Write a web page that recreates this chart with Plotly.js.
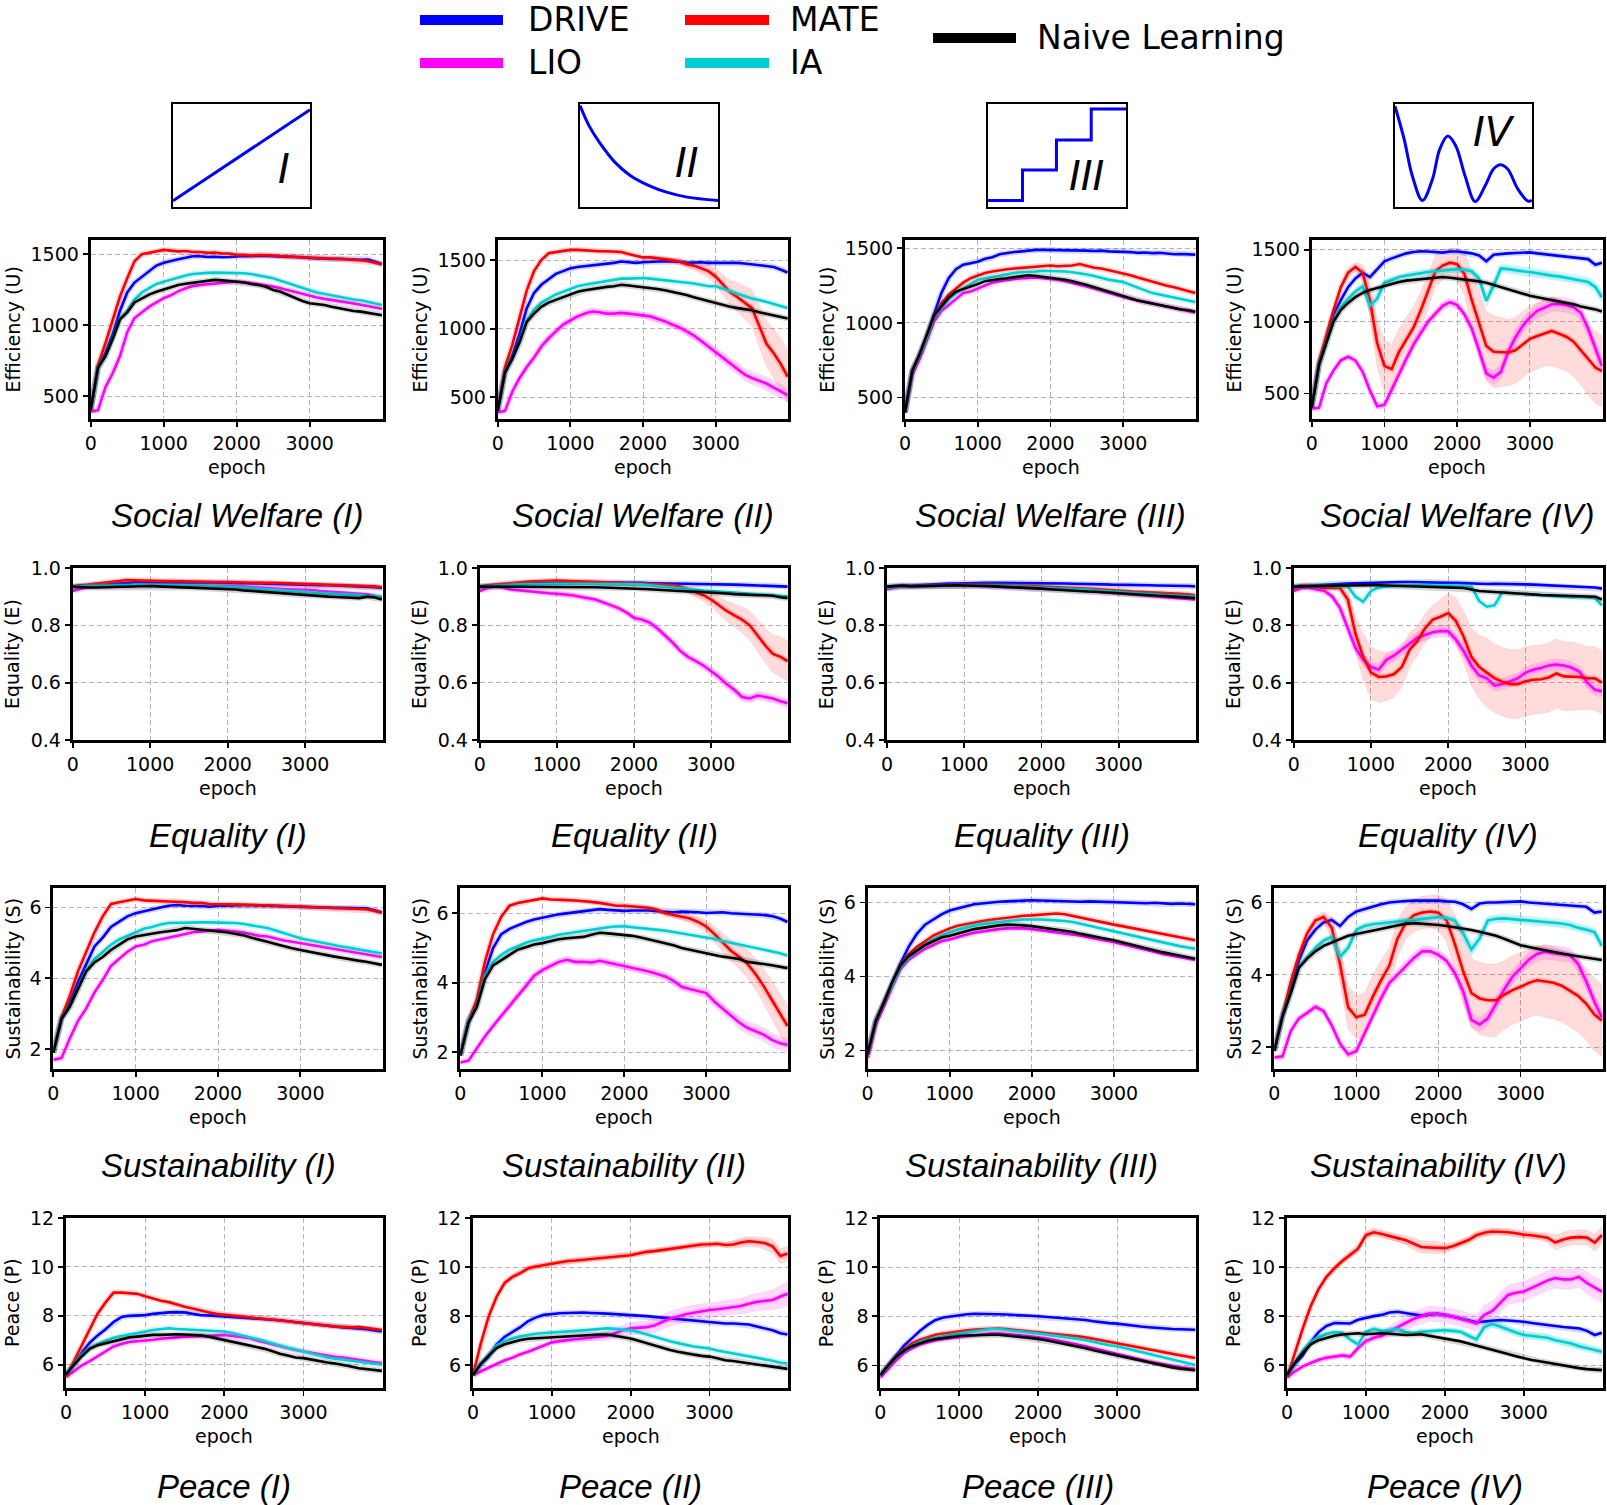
<!DOCTYPE html>
<html><head><meta charset="utf-8">
<script src="https://cdn.plot.ly/plotly-3.0.1.min.js"></script>
<style>html,body{margin:0;padding:0;background:#fff;}#chart{width:1607px;height:1505px;}</style>
</head><body><div id="chart"></div>
<script>
// ---------------- DATA ----------------
const EPOCH = [0,100,200,300,400,500,600,700,800,900,1000,1100,1200,1300,1400,1500,1600,1700,1800,1900,2000,2100,2200,2300,2400,2500,2600,2700,2800,2900,3000,3100,3200,3300,3400,3500,3600,3700,3800,3900,3990];
const METHODS = ['DRIVE','LIO','MATE','IA','Naive Learning'];
const ROMAN = ['I','II','III','IV'];
const X_TICKS = [0,1000,2000,3000];

// Social Welfare
const SW_I_DRIVE = [400,700,800,930,1100,1230,1300,1340,1380,1420,1440,1455,1465,1475,1485,1485,1480,1482,1478,1480,1485,1487,1486,1490,1490,1486,1482,1480,1480,1476,1472,1470,1470,1466,1468,1464,1465,1460,1462,1445,1430];
const SW_I_MATE = [400,720,870,1040,1200,1330,1450,1500,1510,1520,1530,1525,1520,1522,1515,1515,1510,1512,1505,1505,1495,1495,1490,1494,1494,1490,1486,1484,1480,1480,1476,1474,1470,1470,1466,1464,1460,1458,1450,1440,1428];
const SW_I_LIO = [390,400,560,660,780,950,1050,1090,1130,1160,1190,1210,1240,1260,1275,1283,1288,1295,1300,1305,1307,1303,1296,1288,1280,1272,1260,1247,1233,1220,1205,1195,1185,1178,1170,1160,1153,1143,1132,1122,1115];
const SW_I_IA = [400,700,780,900,1040,1100,1180,1230,1260,1290,1305,1320,1340,1350,1360,1366,1368,1370,1370,1370,1368,1366,1360,1350,1342,1330,1312,1295,1275,1260,1245,1230,1220,1205,1196,1188,1180,1175,1165,1155,1142];
const SW_I_NAIVE = [400,700,780,900,1040,1090,1160,1190,1215,1235,1250,1270,1283,1292,1300,1307,1312,1319,1315,1310,1307,1300,1290,1283,1270,1248,1235,1213,1195,1170,1154,1150,1142,1130,1119,1110,1100,1095,1088,1080,1070];

const SW_II_DRIVE = [400,680,800,960,1150,1260,1320,1360,1400,1420,1440,1450,1455,1465,1470,1475,1480,1490,1485,1480,1485,1488,1490,1492,1490,1488,1480,1482,1485,1480,1480,1478,1482,1480,1476,1470,1462,1455,1450,1430,1410];
const SW_II_MATE = [400,720,880,1080,1280,1420,1500,1550,1560,1570,1575,1575,1570,1568,1565,1565,1560,1560,1545,1530,1520,1520,1515,1510,1500,1490,1470,1460,1440,1420,1380,1320,1265,1230,1190,1150,1020,890,820,740,650];
const SW_II_MATE_STD = [8,8,8,8,8,8,8,8,8,8,8,8,8,8,8,8,8,8,8,8,10,12,14,16,18,20,25,30,40,50,60,75,90,105,120,135,150,165,180,190,190];
const SW_II_LIO = [390,400,540,640,720,790,870,930,980,1030,1060,1090,1110,1125,1120,1110,1110,1115,1110,1105,1100,1090,1070,1055,1030,1010,980,950,910,870,830,790,745,710,665,640,620,600,570,540,515];
const SW_II_LIO_STD = [10,10,15,20,20,20,25,25,25,25,25,25,25,25,25,25,25,25,25,25,25,25,25,25,25,30,30,30,35,35,35,40,40,45,45,45,45,50,50,50,50];
const SW_II_IA = [400,680,780,900,1060,1140,1190,1220,1250,1270,1290,1310,1320,1330,1340,1350,1360,1365,1365,1370,1370,1365,1360,1355,1350,1345,1340,1330,1320,1310,1310,1295,1275,1255,1235,1220,1210,1195,1180,1165,1150];
const SW_II_NAIVE = [400,680,780,900,1050,1110,1160,1190,1210,1230,1250,1270,1280,1290,1300,1305,1310,1320,1315,1310,1305,1300,1290,1280,1270,1255,1245,1230,1215,1200,1185,1170,1160,1150,1145,1135,1120,1110,1100,1085,1075];

const SW_III_DRIVE = [400,680,780,900,1060,1200,1300,1360,1390,1400,1410,1430,1440,1460,1470,1475,1480,1485,1490,1490,1490,1485,1485,1488,1485,1485,1482,1485,1480,1478,1480,1475,1470,1472,1468,1470,1465,1460,1462,1460,1458];
const SW_III_MATE = [400,680,780,900,1040,1130,1190,1230,1270,1300,1320,1335,1345,1355,1360,1365,1370,1375,1380,1385,1385,1380,1380,1385,1395,1380,1370,1365,1355,1345,1335,1320,1305,1290,1280,1265,1250,1240,1225,1215,1200];
const SW_III_LIO = [400,650,760,880,1010,1080,1120,1160,1200,1210,1230,1250,1270,1280,1290,1295,1300,1305,1305,1300,1295,1290,1280,1270,1260,1245,1230,1215,1200,1185,1170,1160,1150,1140,1130,1120,1110,1100,1090,1080,1070];
const SW_III_IA = [400,680,780,900,1040,1100,1160,1200,1230,1260,1290,1300,1310,1320,1330,1335,1340,1345,1345,1350,1350,1345,1345,1340,1335,1325,1315,1300,1290,1282,1275,1255,1235,1215,1200,1190,1180,1170,1160,1150,1140];
const SW_III_NAIVE = [400,680,790,920,1050,1110,1170,1210,1225,1240,1260,1280,1290,1295,1300,1305,1310,1320,1315,1310,1305,1300,1290,1280,1270,1255,1240,1225,1210,1190,1175,1165,1150,1140,1130,1120,1110,1100,1090,1085,1075];

const SW_IV_DRIVE = [400,700,880,1050,1150,1240,1300,1340,1310,1365,1420,1440,1460,1475,1485,1490,1488,1482,1480,1488,1488,1482,1475,1460,1420,1465,1472,1475,1478,1480,1482,1475,1470,1465,1460,1455,1450,1440,1435,1395,1410];
const SW_IV_MATE = [400,720,900,1080,1240,1340,1380,1340,1150,850,690,670,790,880,960,1080,1210,1350,1390,1410,1400,1330,1150,990,830,790,790,785,800,840,880,900,920,935,915,895,860,800,740,680,655];
const SW_IV_MATE_STD = [10,15,20,20,25,30,30,60,120,170,180,170,160,150,140,130,120,110,100,100,110,150,200,230,240,250,240,230,230,230,230,230,230,240,240,240,240,240,250,250,250];
const SW_IV_LIO = [395,400,570,660,730,755,730,650,520,410,420,530,640,740,840,925,1000,1055,1110,1135,1115,1050,950,800,640,610,650,790,890,970,1030,1075,1100,1120,1122,1115,1100,1060,950,820,690];
const SW_IV_LIO_STD = [10,10,15,15,15,15,15,20,20,20,20,25,25,30,30,30,30,30,30,30,30,30,35,40,45,50,50,50,50,50,50,50,50,50,50,50,50,50,50,50,50];
const SW_IV_IA = [400,700,850,1000,1100,1160,1210,1245,1110,1160,1270,1290,1310,1320,1330,1340,1345,1350,1355,1360,1365,1360,1350,1300,1145,1250,1370,1365,1355,1350,1345,1335,1330,1320,1315,1305,1300,1290,1275,1240,1170];
const SW_IV_IA_STD = [10,10,15,15,15,20,20,25,40,40,25,20,20,20,20,20,20,20,20,20,20,20,25,30,40,40,30,30,30,30,30,30,30,30,30,30,30,30,35,35,35];
const SW_IV_NAIVE = [400,700,850,1000,1080,1130,1170,1200,1220,1235,1250,1265,1275,1285,1290,1295,1300,1310,1310,1305,1300,1295,1290,1280,1270,1255,1240,1225,1205,1190,1180,1170,1160,1150,1145,1135,1120,1105,1095,1085,1070];

// Equality
const EQ_I_DRIVE = [0.935,0.938,0.94,0.94,0.942,0.945,0.947,0.948,0.95,0.95,0.95,0.95,0.95,0.951,0.95,0.95,0.95,0.949,0.949,0.948,0.948,0.948,0.947,0.946,0.946,0.945,0.944,0.944,0.943,0.943,0.942,0.941,0.94,0.94,0.939,0.938,0.937,0.936,0.935,0.933,0.93];
const EQ_I_MATE = [0.935,0.94,0.942,0.945,0.948,0.952,0.955,0.958,0.957,0.956,0.957,0.956,0.955,0.954,0.954,0.953,0.953,0.952,0.952,0.951,0.951,0.95,0.95,0.949,0.949,0.948,0.948,0.947,0.947,0.946,0.946,0.945,0.944,0.943,0.942,0.941,0.94,0.939,0.938,0.936,0.933];
const EQ_I_LIO = [0.92,0.928,0.933,0.935,0.936,0.937,0.938,0.939,0.94,0.94,0.94,0.94,0.94,0.94,0.94,0.94,0.939,0.938,0.938,0.937,0.937,0.936,0.935,0.933,0.931,0.93,0.928,0.927,0.926,0.925,0.925,0.923,0.92,0.918,0.916,0.914,0.912,0.91,0.908,0.903,0.895];
const EQ_I_IA = [0.935,0.937,0.938,0.938,0.938,0.94,0.94,0.94,0.941,0.941,0.942,0.942,0.942,0.941,0.94,0.94,0.939,0.938,0.937,0.936,0.935,0.933,0.931,0.929,0.927,0.925,0.923,0.921,0.919,0.917,0.915,0.913,0.911,0.91,0.909,0.908,0.906,0.905,0.903,0.901,0.9];
const EQ_I_NAIVE = [0.935,0.933,0.932,0.932,0.933,0.933,0.934,0.935,0.936,0.936,0.937,0.936,0.935,0.934,0.933,0.932,0.931,0.93,0.928,0.927,0.927,0.925,0.922,0.92,0.918,0.915,0.912,0.91,0.908,0.906,0.905,0.904,0.902,0.9,0.899,0.897,0.895,0.895,0.9,0.897,0.89];

const EQ_II_DRIVE = [0.935,0.938,0.94,0.942,0.944,0.946,0.947,0.948,0.949,0.95,0.95,0.95,0.95,0.95,0.95,0.95,0.95,0.949,0.949,0.948,0.948,0.948,0.947,0.947,0.946,0.946,0.945,0.945,0.944,0.944,0.943,0.943,0.942,0.942,0.941,0.94,0.94,0.939,0.938,0.937,0.935];
const EQ_II_MATE = [0.935,0.94,0.942,0.945,0.948,0.95,0.952,0.954,0.955,0.955,0.956,0.955,0.954,0.953,0.952,0.951,0.95,0.95,0.949,0.948,0.948,0.946,0.945,0.943,0.941,0.94,0.935,0.925,0.915,0.905,0.89,0.87,0.85,0.835,0.82,0.8,0.765,0.73,0.7,0.69,0.675];
const EQ_II_MATE_STD = [0.003,0.003,0.003,0.003,0.003,0.003,0.003,0.003,0.003,0.003,0.003,0.003,0.003,0.003,0.003,0.003,0.003,0.003,0.003,0.003,0.003,0.003,0.003,0.003,0.003,0.003,0.008,0.012,0.016,0.02,0.025,0.03,0.035,0.04,0.045,0.05,0.055,0.06,0.065,0.07,0.07];
const EQ_II_LIO = [0.92,0.93,0.935,0.932,0.925,0.922,0.92,0.918,0.915,0.912,0.91,0.908,0.905,0.9,0.895,0.89,0.88,0.87,0.86,0.845,0.826,0.82,0.81,0.79,0.765,0.74,0.71,0.69,0.675,0.66,0.64,0.62,0.595,0.575,0.55,0.545,0.555,0.55,0.545,0.535,0.528];
const EQ_II_LIO_STD = [0.005,0.005,0.005,0.005,0.005,0.005,0.005,0.005,0.005,0.005,0.008,0.008,0.008,0.008,0.008,0.008,0.008,0.008,0.008,0.008,0.012,0.012,0.012,0.012,0.012,0.012,0.012,0.012,0.012,0.012,0.015,0.015,0.015,0.015,0.015,0.015,0.015,0.015,0.015,0.015,0.015];
const EQ_II_IA = [0.935,0.937,0.939,0.94,0.941,0.942,0.943,0.944,0.945,0.945,0.945,0.945,0.945,0.945,0.945,0.945,0.945,0.945,0.945,0.945,0.944,0.943,0.94,0.937,0.934,0.931,0.928,0.925,0.923,0.921,0.92,0.918,0.916,0.914,0.912,0.91,0.908,0.906,0.904,0.902,0.9];
const EQ_II_NAIVE = [0.935,0.935,0.935,0.935,0.935,0.935,0.935,0.935,0.935,0.935,0.935,0.935,0.935,0.934,0.933,0.933,0.932,0.931,0.931,0.93,0.93,0.928,0.926,0.924,0.922,0.92,0.919,0.918,0.917,0.916,0.915,0.913,0.911,0.909,0.907,0.905,0.905,0.905,0.903,0.898,0.895];

const EQ_III_DRIVE = [0.935,0.938,0.94,0.938,0.94,0.942,0.944,0.945,0.946,0.946,0.947,0.947,0.948,0.948,0.948,0.948,0.948,0.948,0.948,0.947,0.947,0.947,0.946,0.946,0.945,0.945,0.944,0.944,0.943,0.942,0.942,0.941,0.941,0.94,0.94,0.939,0.939,0.938,0.938,0.937,0.936];
const EQ_III_MATE = [0.93,0.935,0.937,0.936,0.937,0.938,0.939,0.94,0.94,0.941,0.941,0.941,0.941,0.941,0.94,0.94,0.94,0.939,0.938,0.937,0.936,0.935,0.934,0.933,0.932,0.93,0.929,0.927,0.925,0.924,0.922,0.92,0.918,0.917,0.915,0.914,0.912,0.911,0.91,0.908,0.905];
const EQ_III_LIO = [0.925,0.933,0.936,0.935,0.936,0.937,0.938,0.938,0.939,0.939,0.939,0.938,0.937,0.936,0.935,0.934,0.933,0.932,0.931,0.93,0.93,0.929,0.928,0.926,0.924,0.922,0.92,0.918,0.916,0.914,0.912,0.91,0.908,0.906,0.904,0.902,0.9,0.898,0.896,0.893,0.89];
const EQ_III_IA = [0.93,0.935,0.936,0.935,0.936,0.937,0.938,0.939,0.94,0.94,0.94,0.94,0.94,0.94,0.939,0.938,0.937,0.936,0.935,0.934,0.933,0.932,0.931,0.93,0.928,0.926,0.924,0.922,0.92,0.918,0.916,0.914,0.912,0.91,0.908,0.906,0.905,0.904,0.903,0.902,0.9];
const EQ_III_NAIVE = [0.935,0.937,0.938,0.936,0.937,0.938,0.939,0.94,0.94,0.94,0.939,0.939,0.938,0.937,0.936,0.935,0.934,0.933,0.932,0.93,0.928,0.926,0.924,0.922,0.92,0.919,0.918,0.917,0.915,0.913,0.911,0.909,0.907,0.906,0.905,0.903,0.902,0.9,0.899,0.897,0.895];

const EQ_IV_DRIVE = [0.935,0.938,0.94,0.94,0.942,0.944,0.945,0.946,0.947,0.948,0.948,0.949,0.95,0.95,0.951,0.951,0.95,0.95,0.949,0.949,0.948,0.948,0.947,0.945,0.943,0.944,0.945,0.945,0.944,0.944,0.943,0.942,0.941,0.94,0.939,0.938,0.937,0.936,0.935,0.932,0.928];
const EQ_IV_MATE = [0.93,0.94,0.94,0.935,0.93,0.93,0.93,0.89,0.77,0.69,0.635,0.62,0.622,0.63,0.655,0.715,0.745,0.79,0.82,0.83,0.843,0.815,0.76,0.69,0.655,0.635,0.616,0.603,0.595,0.595,0.605,0.61,0.612,0.618,0.632,0.622,0.622,0.62,0.616,0.615,0.6];
const EQ_IV_MATE_STD = [0.003,0.003,0.003,0.005,0.005,0.008,0.01,0.03,0.06,0.08,0.09,0.09,0.085,0.08,0.07,0.06,0.05,0.05,0.05,0.06,0.07,0.08,0.09,0.1,0.11,0.12,0.12,0.12,0.12,0.12,0.12,0.12,0.12,0.12,0.12,0.12,0.12,0.115,0.11,0.11,0.11];
const EQ_IV_LIO = [0.92,0.93,0.93,0.925,0.92,0.9,0.86,0.79,0.72,0.68,0.655,0.645,0.68,0.695,0.715,0.735,0.757,0.766,0.776,0.78,0.779,0.75,0.71,0.66,0.625,0.615,0.59,0.595,0.605,0.615,0.635,0.645,0.651,0.66,0.663,0.66,0.652,0.638,0.6,0.575,0.57];
const EQ_IV_LIO_STD = [0.005,0.005,0.005,0.008,0.01,0.012,0.015,0.02,0.02,0.02,0.02,0.02,0.02,0.02,0.02,0.02,0.02,0.02,0.02,0.02,0.02,0.02,0.02,0.02,0.02,0.02,0.02,0.02,0.02,0.02,0.02,0.02,0.02,0.02,0.02,0.02,0.02,0.02,0.02,0.02,0.02];
const EQ_IV_IA = [0.935,0.937,0.938,0.938,0.938,0.938,0.937,0.936,0.9,0.882,0.92,0.932,0.936,0.938,0.94,0.94,0.94,0.94,0.94,0.94,0.939,0.938,0.936,0.935,0.885,0.865,0.87,0.915,0.913,0.911,0.91,0.908,0.906,0.904,0.902,0.9,0.898,0.9,0.898,0.895,0.87];
const EQ_IV_NAIVE = [0.935,0.936,0.937,0.937,0.938,0.938,0.939,0.939,0.94,0.94,0.94,0.94,0.939,0.938,0.937,0.936,0.935,0.934,0.933,0.932,0.931,0.93,0.93,0.925,0.92,0.918,0.916,0.914,0.912,0.91,0.91,0.908,0.906,0.905,0.904,0.903,0.902,0.9,0.9,0.9,0.89];

// Sustainability
const SU_I_DRIVE = [1.9,2.9,3.3,3.9,4.4,4.9,5.15,5.45,5.6,5.75,5.84,5.9,5.95,6.0,6.05,6.07,6.05,6.05,6.04,6.02,6.05,6.05,6.06,6.07,6.07,6.06,6.05,6.05,6.04,6.03,6.02,6.0,6.0,6.0,5.99,5.99,5.98,5.97,5.98,5.92,5.86];
const SU_I_MATE = [1.9,2.9,3.5,4.2,4.75,5.3,5.75,6.1,6.15,6.2,6.24,6.2,6.2,6.18,6.17,6.17,6.15,6.13,6.13,6.1,6.1,6.08,6.08,6.08,6.07,6.07,6.05,6.05,6.04,6.03,6.02,6.02,6.0,6.0,5.98,5.98,5.97,5.96,5.95,5.9,5.85];
const SU_I_LIO = [1.7,1.75,2.3,2.8,3.15,3.6,3.95,4.35,4.55,4.75,4.9,4.95,5.05,5.1,5.13,5.2,5.25,5.3,5.32,5.35,5.37,5.35,5.33,5.3,5.25,5.2,5.18,5.12,5.07,5.03,4.99,4.95,4.9,4.87,4.84,4.8,4.75,4.7,4.66,4.62,4.6];
const SU_I_IA = [1.9,2.85,3.2,3.7,4.2,4.55,4.75,4.95,5.1,5.2,5.32,5.4,5.45,5.52,5.56,5.57,5.58,5.58,5.58,5.58,5.58,5.57,5.56,5.54,5.5,5.46,5.42,5.35,5.27,5.2,5.13,5.08,5.03,4.98,4.95,4.9,4.86,4.82,4.79,4.75,4.7];
const SU_I_NAIVE = [1.9,2.85,3.2,3.7,4.2,4.45,4.6,4.8,4.95,5.1,5.18,5.22,5.28,5.3,5.33,5.36,5.42,5.4,5.37,5.34,5.32,5.3,5.26,5.22,5.15,5.08,5.03,4.97,4.9,4.85,4.8,4.75,4.7,4.65,4.62,4.58,4.53,4.5,4.47,4.42,4.38];

const SU_II_DRIVE = [1.9,2.9,3.4,4.3,5.0,5.4,5.55,5.65,5.75,5.82,5.86,5.92,5.97,6.0,6.03,6.07,6.08,6.12,6.1,6.08,6.07,6.08,6.09,6.08,6.06,6.04,6.03,6.05,6.05,6.03,6.01,6.02,6.03,6.0,5.99,5.98,5.95,5.95,5.92,5.85,5.75];
const SU_II_MATE = [1.9,2.9,3.5,4.6,5.4,5.9,6.22,6.3,6.34,6.38,6.43,6.4,6.4,6.38,6.37,6.36,6.33,6.3,6.25,6.22,6.22,6.2,6.18,6.16,6.1,6.0,5.95,5.9,5.85,5.75,5.62,5.4,5.15,4.92,4.75,4.55,4.25,3.9,3.5,3.1,2.75];
const SU_II_MATE_STD = [0.03,0.03,0.03,0.03,0.03,0.03,0.03,0.03,0.03,0.03,0.03,0.03,0.03,0.03,0.03,0.03,0.03,0.03,0.03,0.03,0.03,0.03,0.04,0.05,0.06,0.07,0.08,0.1,0.12,0.15,0.18,0.22,0.26,0.3,0.35,0.4,0.45,0.5,0.55,0.6,0.6];
const SU_II_LIO = [1.7,1.75,2.1,2.45,2.75,3.05,3.35,3.62,3.9,4.2,4.36,4.48,4.6,4.66,4.6,4.6,4.58,4.63,4.58,4.52,4.48,4.43,4.38,4.32,4.25,4.18,4.05,3.88,3.82,3.75,3.7,3.45,3.25,3.05,2.85,2.7,2.6,2.5,2.35,2.25,2.2];
const SU_II_LIO_STD = [0.03,0.03,0.05,0.06,0.08,0.08,0.1,0.1,0.1,0.1,0.1,0.1,0.1,0.1,0.1,0.1,0.1,0.1,0.1,0.1,0.1,0.1,0.1,0.1,0.12,0.12,0.12,0.12,0.12,0.12,0.15,0.15,0.15,0.15,0.18,0.18,0.2,0.2,0.2,0.2,0.2];
const SU_II_IA = [1.9,2.9,3.3,4.2,4.6,4.8,4.95,5.05,5.15,5.22,5.26,5.32,5.38,5.42,5.46,5.5,5.54,5.58,5.6,5.62,5.63,5.6,5.58,5.55,5.52,5.5,5.46,5.42,5.38,5.34,5.32,5.26,5.2,5.15,5.1,5.04,5.0,4.96,4.9,4.85,4.78];
const SU_II_NAIVE = [1.9,2.85,3.3,4.1,4.5,4.65,4.8,4.95,5.02,5.1,5.14,5.2,5.25,5.28,5.3,5.32,5.38,5.44,5.42,5.4,5.38,5.35,5.3,5.25,5.2,5.14,5.08,5.0,4.95,4.9,4.84,4.8,4.75,4.72,4.68,4.6,4.58,4.54,4.5,4.46,4.42];

const SU_III_DRIVE = [1.9,2.8,3.3,3.85,4.35,4.8,5.15,5.4,5.55,5.68,5.78,5.85,5.9,5.95,5.98,6.0,6.02,6.03,6.05,6.05,6.06,6.05,6.04,6.05,6.04,6.03,6.02,6.03,6.02,6.01,6.02,6.0,6.0,5.99,5.98,5.99,5.97,5.96,5.97,5.96,5.95];
const SU_III_MATE = [1.9,2.8,3.3,3.8,4.3,4.6,4.8,4.95,5.1,5.2,5.3,5.37,5.42,5.47,5.5,5.53,5.56,5.6,5.62,5.64,5.65,5.67,5.68,5.7,5.68,5.63,5.6,5.55,5.5,5.45,5.4,5.36,5.32,5.28,5.23,5.2,5.15,5.1,5.06,5.02,4.98];
const SU_III_LIO = [1.8,2.7,3.2,3.75,4.2,4.45,4.6,4.75,4.85,4.95,5.0,5.07,5.13,5.18,5.22,5.25,5.28,5.3,5.31,5.3,5.28,5.25,5.22,5.2,5.17,5.14,5.1,5.05,5.0,4.97,4.93,4.88,4.82,4.77,4.72,4.66,4.6,4.56,4.52,4.48,4.45];
const SU_III_IA = [1.9,2.8,3.3,3.8,4.25,4.5,4.7,4.85,5.0,5.1,5.2,5.27,5.33,5.38,5.42,5.45,5.48,5.5,5.52,5.54,5.55,5.54,5.53,5.52,5.5,5.47,5.42,5.36,5.3,5.25,5.2,5.15,5.1,5.05,5.0,4.95,4.9,4.86,4.82,4.78,4.75];
const SU_III_NAIVE = [1.9,2.8,3.3,3.85,4.3,4.55,4.7,4.85,4.95,5.05,5.1,5.17,5.22,5.28,5.32,5.35,5.38,5.4,5.4,5.38,5.36,5.33,5.3,5.27,5.24,5.2,5.15,5.1,5.05,5.02,4.98,4.92,4.86,4.8,4.75,4.7,4.65,4.6,4.56,4.52,4.48];

const SU_IV_DRIVE = [1.9,2.9,3.6,4.4,4.95,5.25,5.45,5.52,5.35,5.6,5.75,5.82,5.9,5.95,6.0,6.03,6.04,6.05,6.05,6.06,6.05,6.03,6.02,5.95,5.82,5.97,6.0,6.0,6.01,6.02,6.03,6.0,5.98,5.96,5.95,5.94,5.92,5.9,5.88,5.72,5.75];
const SU_IV_MATE = [1.9,2.9,3.8,4.55,5.15,5.5,5.6,5.3,4.3,3.1,2.83,2.9,3.4,3.85,4.25,5.0,5.43,5.65,5.72,5.75,5.72,5.5,4.85,4.1,3.5,3.35,3.3,3.3,3.45,3.58,3.67,3.78,3.85,3.82,3.78,3.7,3.55,3.42,3.2,2.9,2.74];
const SU_IV_MATE_STD = [0.05,0.08,0.1,0.1,0.12,0.12,0.15,0.3,0.5,0.6,0.6,0.6,0.6,0.55,0.5,0.5,0.45,0.45,0.45,0.45,0.5,0.6,0.8,0.9,0.95,1.0,1.0,1.0,0.95,0.95,0.95,0.95,0.95,1.0,1.0,1.0,1.0,1.0,1.0,1.0,1.0];
const SU_IV_LIO = [1.72,1.75,2.45,2.8,2.95,3.12,3.0,2.6,2.1,1.8,1.9,2.4,2.9,3.35,3.77,4.0,4.25,4.47,4.65,4.65,4.55,4.38,4.04,3.55,2.76,2.63,2.8,3.2,3.6,3.95,4.2,4.42,4.58,4.64,4.6,4.58,4.55,4.3,3.82,3.25,2.83];
const SU_IV_LIO_STD = [0.05,0.05,0.08,0.08,0.08,0.08,0.08,0.1,0.1,0.1,0.1,0.1,0.12,0.12,0.12,0.15,0.15,0.15,0.15,0.15,0.15,0.15,0.15,0.18,0.2,0.2,0.2,0.2,0.2,0.2,0.2,0.2,0.2,0.2,0.2,0.2,0.2,0.2,0.2,0.2,0.2];
const SU_IV_IA = [1.9,2.85,3.5,4.2,4.5,4.75,4.95,5.05,4.5,4.75,5.25,5.35,5.4,5.43,5.45,5.47,5.5,5.52,5.55,5.58,5.6,5.57,5.5,5.15,4.7,5.0,5.5,5.55,5.56,5.54,5.52,5.5,5.48,5.47,5.45,5.42,5.38,5.3,5.25,5.18,4.8];
const SU_IV_IA_STD = [0.03,0.05,0.05,0.05,0.05,0.06,0.06,0.08,0.15,0.12,0.08,0.08,0.08,0.08,0.08,0.08,0.08,0.08,0.08,0.08,0.08,0.08,0.1,0.15,0.2,0.15,0.12,0.12,0.12,0.12,0.12,0.12,0.12,0.12,0.12,0.12,0.12,0.12,0.12,0.12,0.12];
const SU_IV_NAIVE = [1.9,2.85,3.5,4.2,4.45,4.65,4.8,4.9,5.0,5.08,5.13,5.18,5.22,5.27,5.33,5.38,5.41,5.43,5.42,5.4,5.38,5.35,5.32,5.28,5.24,5.19,5.14,5.08,5.0,4.9,4.82,4.77,4.72,4.68,4.63,4.59,4.55,4.51,4.48,4.44,4.41];

// Peace
const PE_I_DRIVE = [5.6,6.0,6.5,6.9,7.2,7.45,7.75,7.95,8.0,8.0,8.03,8.08,8.12,8.14,8.15,8.14,8.08,8.03,8.02,8.0,7.97,7.95,7.93,7.92,7.9,7.88,7.85,7.82,7.78,7.74,7.7,7.66,7.62,7.58,7.56,7.53,7.5,7.49,7.45,7.4,7.36];
const PE_I_MATE = [5.5,6.15,6.85,7.5,8.1,8.55,8.95,8.95,8.92,8.9,8.8,8.7,8.62,8.56,8.45,8.37,8.3,8.24,8.15,8.08,8.05,8.02,7.98,7.95,7.9,7.88,7.85,7.82,7.78,7.74,7.7,7.66,7.62,7.58,7.56,7.55,7.53,7.55,7.5,7.45,7.42];
const PE_I_LIO = [5.5,5.75,5.98,6.15,6.35,6.55,6.75,6.85,6.93,6.96,6.98,7.02,7.06,7.08,7.12,7.15,7.15,7.15,7.18,7.2,7.22,7.18,7.14,7.1,7.0,6.92,6.83,6.73,6.65,6.6,6.54,6.48,6.42,6.37,6.33,6.3,6.26,6.2,6.15,6.1,6.07];
const PE_I_IA = [5.6,6.0,6.42,6.68,6.85,6.98,7.1,7.18,7.25,7.3,7.36,7.42,7.47,7.49,7.46,7.44,7.42,7.42,7.4,7.38,7.36,7.3,7.22,7.16,7.08,6.98,6.88,6.78,6.7,6.62,6.54,6.45,6.37,6.3,6.25,6.2,6.16,6.12,6.08,6.04,6.0];
const PE_I_NAIVE = [5.6,6.0,6.35,6.65,6.8,6.88,6.95,7.05,7.12,7.15,7.2,7.22,7.22,7.24,7.25,7.24,7.23,7.2,7.15,7.08,7.0,6.96,6.88,6.82,6.75,6.66,6.56,6.45,6.38,6.3,6.27,6.2,6.14,6.09,6.05,6.0,5.93,5.86,5.82,5.78,5.75];

const PE_II_DRIVE = [5.6,6.05,6.35,6.85,7.15,7.35,7.55,7.8,7.95,8.05,8.1,8.12,8.13,8.15,8.15,8.13,8.13,8.1,8.08,8.05,8.03,8.02,8.0,7.97,7.93,7.9,7.88,7.85,7.8,7.77,7.75,7.72,7.7,7.7,7.68,7.66,7.58,7.5,7.42,7.3,7.25];
const PE_II_MATE = [5.6,6.9,8.0,8.8,9.35,9.6,9.75,9.95,10.02,10.08,10.15,10.2,10.25,10.27,10.3,10.33,10.36,10.4,10.43,10.45,10.48,10.55,10.62,10.65,10.7,10.75,10.8,10.83,10.88,10.92,10.93,10.95,10.9,10.92,11.0,11.05,11.02,10.98,10.85,10.45,10.55];
const PE_II_MATE_STD = [0.05,0.08,0.1,0.1,0.1,0.1,0.1,0.1,0.1,0.1,0.1,0.1,0.1,0.1,0.1,0.1,0.1,0.1,0.1,0.1,0.1,0.1,0.1,0.1,0.1,0.1,0.1,0.1,0.1,0.1,0.1,0.1,0.1,0.15,0.2,0.2,0.2,0.25,0.3,0.3,0.3];
const PE_II_LIO = [5.6,5.75,5.9,6.05,6.2,6.3,6.45,6.55,6.68,6.8,6.93,6.98,7.03,7.06,7.09,7.12,7.15,7.2,7.3,7.42,7.5,7.52,7.55,7.62,7.75,7.9,7.98,8.08,8.14,8.2,8.25,8.28,8.33,8.38,8.41,8.5,8.58,8.62,8.66,8.8,8.91];
const PE_II_LIO_STD = [0.05,0.05,0.05,0.05,0.05,0.05,0.05,0.05,0.05,0.05,0.06,0.06,0.08,0.08,0.1,0.12,0.15,0.18,0.2,0.22,0.25,0.25,0.25,0.28,0.3,0.3,0.3,0.3,0.3,0.3,0.3,0.3,0.3,0.3,0.32,0.35,0.35,0.38,0.4,0.45,0.5];
const PE_II_IA = [5.6,6.1,6.4,6.8,6.98,7.1,7.18,7.24,7.28,7.31,7.34,7.36,7.38,7.4,7.42,7.45,7.48,7.5,7.48,7.45,7.42,7.35,7.25,7.15,7.05,6.98,6.9,6.82,6.76,6.72,6.68,6.6,6.54,6.5,6.44,6.38,6.3,6.26,6.18,6.1,6.07];
const PE_II_NAIVE = [5.6,6.05,6.4,6.7,6.85,6.95,7.03,7.08,7.1,7.12,7.14,7.18,7.2,7.22,7.22,7.23,7.25,7.25,7.2,7.15,7.09,7.0,6.9,6.8,6.72,6.62,6.55,6.48,6.43,6.38,6.35,6.28,6.2,6.17,6.12,6.08,6.04,6.0,5.93,5.87,5.85];

const PE_III_DRIVE = [5.6,6.0,6.4,6.8,7.1,7.4,7.65,7.85,7.95,8.0,8.05,8.08,8.1,8.1,8.1,8.08,8.07,8.05,8.05,8.02,8.0,7.98,7.95,7.93,7.9,7.88,7.85,7.8,7.75,7.72,7.7,7.65,7.62,7.58,7.55,7.52,7.5,7.48,7.47,7.45,7.45];
const PE_III_MATE = [5.6,6.0,6.35,6.65,6.9,7.05,7.15,7.25,7.3,7.35,7.4,7.43,7.46,7.48,7.5,7.5,7.48,7.45,7.42,7.38,7.35,7.32,7.28,7.25,7.22,7.18,7.14,7.08,7.03,6.98,6.93,6.87,6.8,6.73,6.66,6.6,6.53,6.46,6.4,6.35,6.3];
const PE_III_LIO = [5.5,5.85,6.2,6.5,6.7,6.85,6.95,7.02,7.08,7.12,7.15,7.2,7.25,7.28,7.3,7.3,7.28,7.25,7.22,7.18,7.15,7.1,7.04,6.98,6.92,6.85,6.78,6.7,6.62,6.53,6.45,6.38,6.3,6.23,6.16,6.1,6.03,5.97,5.92,5.88,5.85];
const PE_III_IA = [5.6,6.0,6.35,6.6,6.8,6.95,7.05,7.12,7.2,7.25,7.3,7.35,7.4,7.45,7.48,7.48,7.45,7.42,7.38,7.34,7.3,7.26,7.22,7.16,7.12,7.08,7.02,6.95,6.88,6.82,6.78,6.7,6.62,6.55,6.47,6.4,6.32,6.22,6.15,6.08,6.02];
const PE_III_NAIVE = [5.6,6.0,6.35,6.6,6.78,6.9,7.0,7.07,7.12,7.17,7.2,7.22,7.24,7.25,7.25,7.25,7.22,7.18,7.15,7.12,7.08,7.02,6.96,6.9,6.84,6.78,6.7,6.62,6.55,6.47,6.4,6.32,6.25,6.18,6.1,6.03,5.97,5.92,5.87,5.83,5.8];

const PE_IV_DRIVE = [5.6,6.05,6.4,6.95,7.35,7.6,7.72,7.72,7.7,7.85,7.93,8.0,8.05,8.15,8.18,8.12,8.08,8.02,8.06,8.1,8.05,7.98,7.92,7.82,7.75,7.78,7.82,7.84,7.82,7.8,7.77,7.72,7.67,7.63,7.6,7.56,7.53,7.5,7.4,7.23,7.32];
const PE_IV_MATE = [5.5,6.55,7.5,8.4,9.1,9.6,9.95,10.25,10.5,10.75,11.3,11.42,11.35,11.25,11.18,11.1,10.95,10.82,10.8,10.8,10.77,10.85,10.98,11.1,11.3,11.4,11.45,11.45,11.42,11.38,11.32,11.3,11.25,11.2,11.0,11.12,11.2,11.22,11.2,11.0,11.3];
const PE_IV_MATE_STD = [0.05,0.08,0.1,0.1,0.1,0.1,0.12,0.12,0.15,0.15,0.15,0.15,0.15,0.15,0.15,0.18,0.25,0.25,0.25,0.25,0.2,0.15,0.15,0.15,0.15,0.15,0.15,0.15,0.15,0.15,0.15,0.15,0.15,0.2,0.3,0.3,0.3,0.3,0.3,0.35,0.35];
const PE_IV_LIO = [5.5,5.75,5.95,6.1,6.22,6.3,6.34,6.4,6.35,6.7,6.98,7.12,7.2,7.38,7.55,7.72,7.88,8.0,8.1,8.08,8.05,7.98,7.9,7.8,7.7,8.05,8.2,8.55,8.86,8.95,9.0,9.15,9.3,9.45,9.55,9.5,9.5,9.6,9.35,9.15,9.0];
const PE_IV_LIO_STD = [0.05,0.05,0.05,0.08,0.08,0.1,0.1,0.1,0.1,0.1,0.12,0.12,0.15,0.2,0.25,0.3,0.3,0.3,0.3,0.3,0.3,0.3,0.3,0.3,0.35,0.4,0.4,0.4,0.4,0.4,0.4,0.4,0.4,0.4,0.4,0.4,0.4,0.4,0.45,0.45,0.45];
const PE_IV_IA = [5.6,6.1,6.6,6.95,7.15,7.28,7.35,7.32,7.05,6.85,7.35,7.48,7.4,7.42,7.48,7.35,7.3,7.36,7.38,7.42,7.43,7.4,7.36,7.2,7.05,7.55,7.68,7.58,7.45,7.33,7.23,7.2,7.17,7.12,7.02,6.95,6.88,6.77,6.7,6.62,6.55];
const PE_IV_IA_STD = [0.05,0.05,0.05,0.05,0.05,0.05,0.05,0.05,0.1,0.1,0.1,0.1,0.1,0.1,0.1,0.1,0.1,0.1,0.1,0.1,0.1,0.1,0.1,0.12,0.15,0.15,0.15,0.15,0.15,0.15,0.15,0.15,0.15,0.15,0.15,0.15,0.15,0.15,0.15,0.15,0.15];
const PE_IV_NAIVE = [5.6,6.1,6.5,6.85,7.02,7.12,7.2,7.25,7.28,7.3,7.26,7.28,7.3,7.28,7.25,7.23,7.24,7.26,7.2,7.15,7.09,7.03,6.97,6.88,6.8,6.72,6.64,6.56,6.46,6.36,6.27,6.21,6.16,6.1,6.04,5.99,5.94,5.88,5.84,5.81,5.8];

// Schematic inset curves (fractions of each inset box)
const ICON_I_X = [0,1];
const ICON_I_Y = [0.06,0.945];
const ICON_II_X = [0,0.067,0.142,0.254,0.366,0.5,0.627,0.776,1];
const ICON_II_Y = [0.984,0.785,0.625,0.433,0.304,0.208,0.144,0.096,0.064];
const ICON_III_X = [0,0.25,0.25,0.496,0.496,0.748,0.748,1];
const ICON_III_Y = [0.064,0.064,0.359,0.359,0.65,0.65,0.952,0.952];
const ICON_IV_X = [0,0.067,0.126,0.2,0.274,0.326,0.385,0.444,0.511,0.585,0.659,0.719,0.77,0.822,0.896,0.97,1];
const ICON_IV_Y = [0.978,0.657,0.304,0.064,0.272,0.56,0.689,0.593,0.304,0.054,0.208,0.369,0.41,0.369,0.176,0.058,0.064];

// ---------------- PANEL TABLE ----------------
const ROW_INFO = [
  {title:'Social Welfare', ylabel:'Efficiency (U)', tickvals:[500,1000,1500], ticktext:['500','1000','1500'],
   ranges:[[338,1600],[341,1647],[356,1556],[322,1568]]},
  {title:'Equality', ylabel:'Equality (E)', tickvals:[0.4,0.6,0.8,1.0], ticktext:['0.4','0.6','0.8','1.0'],
   ranges:[[0.4,1.0],[0.4,1.0],[0.4,1.0],[0.4,1.0]]},
  {title:'Sustainability', ylabel:'Sustainability (S)', tickvals:[2,4,6], ticktext:['2','4','6'],
   ranges:[[1.44,6.55],[1.51,6.73],[1.5,6.39],[1.4,6.4]]},
  {title:'Peace', ylabel:'Peace (P)', tickvals:[6,8,10,12], ticktext:['6','8','10','12'],
   ranges:[[5.05,12],[5.07,12],[5.08,12],[5.07,12]]}
];
const PANEL_DATA = [
  [ {DRIVE:SW_I_DRIVE, LIO:SW_I_LIO, MATE:SW_I_MATE, IA:SW_I_IA, 'Naive Learning':SW_I_NAIVE}, {} ],
  [ {DRIVE:SW_II_DRIVE, LIO:SW_II_LIO, MATE:SW_II_MATE, IA:SW_II_IA, 'Naive Learning':SW_II_NAIVE}, {MATE:SW_II_MATE_STD, LIO:SW_II_LIO_STD} ],
  [ {DRIVE:SW_III_DRIVE, LIO:SW_III_LIO, MATE:SW_III_MATE, IA:SW_III_IA, 'Naive Learning':SW_III_NAIVE}, {} ],
  [ {DRIVE:SW_IV_DRIVE, LIO:SW_IV_LIO, MATE:SW_IV_MATE, IA:SW_IV_IA, 'Naive Learning':SW_IV_NAIVE}, {MATE:SW_IV_MATE_STD, LIO:SW_IV_LIO_STD, IA:SW_IV_IA_STD} ],
  [ {DRIVE:EQ_I_DRIVE, LIO:EQ_I_LIO, MATE:EQ_I_MATE, IA:EQ_I_IA, 'Naive Learning':EQ_I_NAIVE}, {} ],
  [ {DRIVE:EQ_II_DRIVE, LIO:EQ_II_LIO, MATE:EQ_II_MATE, IA:EQ_II_IA, 'Naive Learning':EQ_II_NAIVE}, {MATE:EQ_II_MATE_STD, LIO:EQ_II_LIO_STD} ],
  [ {DRIVE:EQ_III_DRIVE, LIO:EQ_III_LIO, MATE:EQ_III_MATE, IA:EQ_III_IA, 'Naive Learning':EQ_III_NAIVE}, {} ],
  [ {DRIVE:EQ_IV_DRIVE, LIO:EQ_IV_LIO, MATE:EQ_IV_MATE, IA:EQ_IV_IA, 'Naive Learning':EQ_IV_NAIVE}, {MATE:EQ_IV_MATE_STD, LIO:EQ_IV_LIO_STD} ],
  [ {DRIVE:SU_I_DRIVE, LIO:SU_I_LIO, MATE:SU_I_MATE, IA:SU_I_IA, 'Naive Learning':SU_I_NAIVE}, {} ],
  [ {DRIVE:SU_II_DRIVE, LIO:SU_II_LIO, MATE:SU_II_MATE, IA:SU_II_IA, 'Naive Learning':SU_II_NAIVE}, {MATE:SU_II_MATE_STD, LIO:SU_II_LIO_STD} ],
  [ {DRIVE:SU_III_DRIVE, LIO:SU_III_LIO, MATE:SU_III_MATE, IA:SU_III_IA, 'Naive Learning':SU_III_NAIVE}, {} ],
  [ {DRIVE:SU_IV_DRIVE, LIO:SU_IV_LIO, MATE:SU_IV_MATE, IA:SU_IV_IA, 'Naive Learning':SU_IV_NAIVE}, {MATE:SU_IV_MATE_STD, LIO:SU_IV_LIO_STD, IA:SU_IV_IA_STD} ],
  [ {DRIVE:PE_I_DRIVE, LIO:PE_I_LIO, MATE:PE_I_MATE, IA:PE_I_IA, 'Naive Learning':PE_I_NAIVE}, {} ],
  [ {DRIVE:PE_II_DRIVE, LIO:PE_II_LIO, MATE:PE_II_MATE, IA:PE_II_IA, 'Naive Learning':PE_II_NAIVE}, {MATE:PE_II_MATE_STD, LIO:PE_II_LIO_STD} ],
  [ {DRIVE:PE_III_DRIVE, LIO:PE_III_LIO, MATE:PE_III_MATE, IA:PE_III_IA, 'Naive Learning':PE_III_NAIVE}, {} ],
  [ {DRIVE:PE_IV_DRIVE, LIO:PE_IV_LIO, MATE:PE_IV_MATE, IA:PE_IV_IA, 'Naive Learning':PE_IV_NAIVE}, {MATE:PE_IV_MATE_STD, LIO:PE_IV_LIO_STD, IA:PE_IV_IA_STD} ]
];
const ICONS = [[ICON_I_X,ICON_I_Y,'linear'],[ICON_II_X,ICON_II_Y,'spline'],[ICON_III_X,ICON_III_Y,'linear'],[ICON_IV_X,ICON_IV_Y,'spline']];

// ---------------- STYLE / GEOMETRY ----------------
const W = 1607, H = 1505;
const COLOR = {'DRIVE':'#0000ff','LIO':'#ff00ff','MATE':'#ff0000','IA':'#00ced1','Naive Learning':'#000000'};
const HALO = {'DRIVE':'rgba(0,0,255,0.16)','LIO':'rgba(255,0,255,0.16)','MATE':'rgba(255,0,0,0.16)','IA':'rgba(0,206,209,0.18)','Naive Learning':'rgba(0,0,0,0.16)'};
const BAND = {'DRIVE':'rgba(0,0,255,0.14)','LIO':'rgba(255,0,255,0.15)','MATE':'rgba(255,0,0,0.14)','IA':'rgba(0,206,209,0.16)','Naive Learning':'rgba(0,0,0,0.12)'};
const ROW_LEFT = [90.7, 72.7, 53.3, 66];
const COL_SHIFT = [0, 407, 814.3, 1221];
const COL_RIGHT = [382.7, 788.3, 1196, 1602.7];
const ROW_TOP = [240, 568, 888, 1218];
const ROW_BOTTOM = [419, 740, 1069, 1388];
const TITLE_Y = [515, 836, 1165, 1486];
const YTITLE_X = 12;
const INSET_X = [[173,310],[580,718],[988,1126],[1395,1532]];
const INSET_Y = [104, 207];
const INSET_LABEL = [[284,169],[687,163],[1086,176],[1494,132]];
const TICK_FONT = {family:'DejaVu Sans, Verdana, sans-serif', size:19, color:'#000'};
const TITLE_FONT = {family:'Liberation Sans, Arial, Helvetica, sans-serif', size:33, color:'#000', style:'italic'};
const LEGEND_FONT = {family:'DejaVu Sans, Verdana, sans-serif', size:33, color:'#000'};
const LEGEND_ITEMS = [
  {name:'DRIVE', x0:420, x1:503, y:20, tx:527},
  {name:'MATE', x0:685, x1:769, y:20, tx:789},
  {name:'LIO', x0:420, x1:503, y:63, tx:527},
  {name:'IA', x0:685, x1:769, y:63, tx:789},
  {name:'Naive Learning', x0:933, x1:1016, y:38, tx:1036}
];

const px = v => v / W;
const py = v => 1 - v / H;
const axName = (k, i) => (i === 1 ? k : k + i);

const traces = [];
const layout = {
  width: W, height: H, margin:{l:0,r:0,t:0,b:0,pad:0},
  paper_bgcolor:'#fff', plot_bgcolor:'#fff', showlegend:false,
  annotations:[], shapes:[]
};

PANEL_DATA.forEach((pd, idx) => {
  const r = Math.floor(idx / 4), c = idx % 4;
  const ai = idx + 1;
  const xa = axName('x', ai), ya = axName('y', ai);
  const L = ROW_LEFT[r] + COL_SHIFT[c], R = COL_RIGHT[c], T = ROW_TOP[r], B = ROW_BOTTOM[r];
  const info = ROW_INFO[r];
  const series = pd[0], stds = pd[1];

  METHODS.forEach(m => {
    if (!stds[m]) return;
    const y = series[m], s = stds[m];
    const up = y.map((v, i) => v + s[i]);
    const lo = y.map((v, i) => v - s[i]);
    traces.push({type:'scatter', mode:'lines', xaxis:xa, yaxis:ya,
      x: EPOCH.concat(EPOCH.slice().reverse()), y: up.concat(lo.reverse()),
      fill:'toself', fillcolor:BAND[m], line:{width:0.6, color:BAND[m]}, hoverinfo:'skip'});
  });
  METHODS.forEach(m => {
    traces.push({type:'scatter', mode:'lines', xaxis:xa, yaxis:ya, x:EPOCH, y:series[m],
      line:{color:HALO[m], width:6}, hoverinfo:'skip'});
    traces.push({type:'scatter', mode:'lines', name:m, xaxis:xa, yaxis:ya, x:EPOCH, y:series[m],
      line:{color:COLOR[m], width:2.6}});
  });

  const common = {ticks:'outside', ticklen:5, tickwidth:1.8, tickcolor:'#000', showline:true, linecolor:'#000',
    linewidth:3, mirror:true, showgrid:true, gridcolor:'#b5b5b5', gridwidth:1, griddash:'5px,3px',
    zeroline:false, tickfont:TICK_FONT, fixedrange:true, automargin:false, tickmode:'array'};
  layout['xaxis' + (ai === 1 ? '' : ai)] = Object.assign({}, common, {
    domain:[px(L), px(R)], anchor:ya, range:[0, 4000], tickvals:X_TICKS, ticktext:X_TICKS.map(String)});
  layout['yaxis' + (ai === 1 ? '' : ai)] = Object.assign({}, common, {
    domain:[py(B), py(T)], anchor:xa, range:info.ranges[c], tickvals:info.tickvals, ticktext:info.ticktext});

  layout.annotations.push({xref:'paper', yref:'paper', x:px((L+R)/2), y:py(B+48), text:'epoch',
    showarrow:false, xanchor:'center', yanchor:'middle', font:TICK_FONT, borderpad:0});
  layout.annotations.push({xref:'paper', yref:'paper', x:px(YTITLE_X + COL_SHIFT[c]), y:py((T+B)/2), text:info.ylabel,
    textangle:-90, showarrow:false, xanchor:'center', yanchor:'middle', font:TICK_FONT, borderpad:0});
  layout.annotations.push({xref:'paper', yref:'paper', x:px((L+R)/2), y:py(TITLE_Y[r]),
    text:info.title + ' (' + ROMAN[c] + ')', showarrow:false, xanchor:'center', yanchor:'middle', font:TITLE_FONT, borderpad:0});
});

ICONS.forEach((ic, k) => {
  const ai = 17 + k;
  const xa = axName('x', ai), ya = axName('y', ai);
  traces.push({type:'scatter', mode:'lines', xaxis:xa, yaxis:ya, x:ic[0], y:ic[1],
    line:{color:'#0000ff', width:3, shape:ic[2], smoothing:1}, hoverinfo:'skip'});
  const base = {showline:true, linecolor:'#000', linewidth:2, mirror:true, showgrid:false, zeroline:false,
    ticks:'', showticklabels:false, fixedrange:true, range:[0,1]};
  layout['xaxis' + ai] = Object.assign({}, base, {domain:[px(INSET_X[k][0]), px(INSET_X[k][1])], anchor:ya});
  layout['yaxis' + ai] = Object.assign({}, base, {domain:[py(INSET_Y[1]), py(INSET_Y[0])], anchor:xa});
  layout.annotations.push({xref:'paper', yref:'paper', x:px(INSET_LABEL[k][0]), y:py(INSET_LABEL[k][1]),
    text:ROMAN[k], showarrow:false, xanchor:'center', yanchor:'middle', borderpad:0,
    font:{family:'DejaVu Sans, Verdana, sans-serif', size:40, color:'#000', style:'italic'}});
});

LEGEND_ITEMS.forEach(it => {
  layout.shapes.push({type:'line', xref:'paper', yref:'paper', x0:px(it.x0), x1:px(it.x1), y0:py(it.y), y1:py(it.y),
    line:{color:COLOR[it.name], width:10}});
  layout.annotations.push({xref:'paper', yref:'paper', x:px(it.tx), y:py(it.y), text:it.name, showarrow:false,
    xanchor:'left', yanchor:'middle', font:LEGEND_FONT, borderpad:0});
});

Plotly.newPlot('chart', traces, layout, {staticPlot:true, displayModeBar:false});
</script>
</body></html>
